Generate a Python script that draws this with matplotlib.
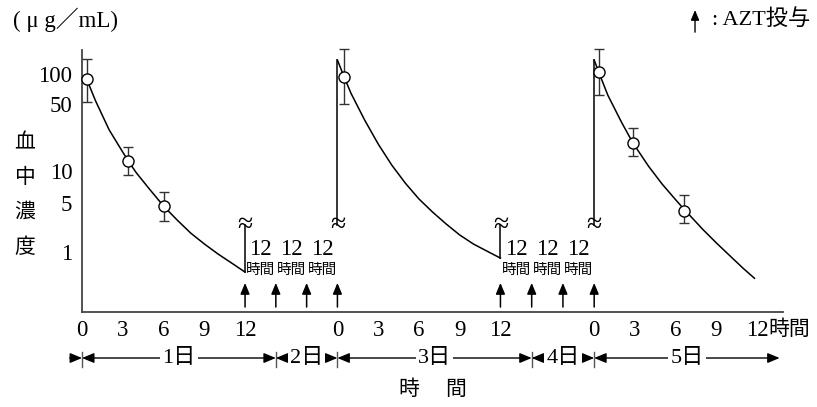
import numpy as np
import matplotlib.pyplot as plt

plt.rcParams['font.family'] = ['Liberation Serif', 'Noto Sans CJK JP']

# blood concentration curves (hours from first dose, ug/mL)
day1_hours = [0.4, 1, 2, 3, 3.4, 4, 5, 6, 7, 8, 9, 10, 11, 12]
day1_conc = [85, 53.6, 26.7, 15.6, 12.6, 9.5, 6.6, 4.46, 2.83, 1.85, 1.30, 0.94, 0.70, 0.52]

day3_hours = [48, 48.5, 49, 50, 51, 52, 53, 54, 55, 56, 57, 58, 59, 60]
day3_conc = [138, 93, 64, 34, 19.0, 11.4, 7.6, 5.4, 3.67, 2.49, 1.74, 1.30, 1.03, 0.82]

day5_hours = [96, 96.33, 97, 98, 98.85, 100, 101, 102, 102.6, 104, 105, 106, 107, 107.8]
day5_conc = [138, 105, 61.5, 32.4, 19.5, 11.1, 7.46, 5.3, 4.05, 2.08, 1.34, 0.88, 0.58, 0.425]

# measured means with range
meas_hours = [0.4, 3.4, 6.0, 48.46, 96.32, 98.85, 102.6]
meas_conc = [88.5, 12.6, 4.46, 93.7, 104, 19.5, 3.85]
meas_low = [52.4, 9.1, 2.74, 49.7, 61.5, 14.2, 2.57]
meas_high = [141, 17.8, 6.3, 178, 178, 27.8, 5.9]

dose_hours = [12, 24, 36, 48, 60, 72, 84, 96]
gap_mid_hours = [18, 30, 42, 66, 78, 90]
break_level = 2.4

day_bounds = [0, 24, 48, 72, 96]
day_end = 109.65
day_names = ['1日', '2日', '3日', '4日', '5日']

xtick_hours = [0, 3, 6, 9, 12, 48, 51, 54, 57, 60, 96, 99, 102, 105, 108]
xtick_labels = ['0', '3', '6', '9', '12'] * 3
ytick_vals = [1, 5, 10, 50, 100]

# hand-drawn concentration axis: piecewise log spacing between labelled values
y_logs = [-2, 0, np.log10(5), 1, np.log10(50), 2, 3]
y_pos = [-141.4, 0, 49.5, 81.5, 148, 178, 278]

# time axis: the 12 h gaps between the plotted days are squeezed
x_hours = [-20, 0, 12, 48, 60, 96, 108, 130]
x_pos = [-20, 0, 12, 18.8, 30.8, 37.7, 49.7, 71.7]


def y_fwd(v):
    return np.interp(np.log10(np.clip(v, 1e-6, None)), y_logs, y_pos)


def y_inv(p):
    return 10 ** np.interp(p, y_pos, y_logs)


def x_fwd(h):
    return np.interp(h, x_hours, x_pos)


def x_inv(p):
    return np.interp(p, x_pos, x_hours)


fig = plt.figure(figsize=(8.17, 4.07), dpi=100)
ax = fig.add_axes([0.1004, 0.2334, 0.858, 0.6437])
ax.set_xscale('function', functions=(x_fwd, x_inv))
ax.set_yscale('function', functions=(y_fwd, y_inv))
ax.set_xlim(0, 109.9)
ax.set_ylim(0.1416, 173.8)

for s in ['top', 'right']:
    ax.spines[s].set_visible(False)
for s in ['left', 'bottom']:
    ax.spines[s].set_color('#444444')
    ax.spines[s].set_linewidth(1.3)

ax.set_xticks(xtick_hours, xtick_labels)
ax.set_yticks(ytick_vals, [str(v) for v in ytick_vals])
ax.minorticks_off()
ax.tick_params(axis='both', length=0, labelsize=16.5)
ax.tick_params(axis='x', pad=6)
ax.tick_params(axis='y', pad=7)

line_kw = dict(color='black', lw=1.1, clip_on=False)
ax.plot(day1_hours, day1_conc, **line_kw)
ax.plot(day3_hours, day3_conc, **line_kw)
ax.plot(day5_hours, day5_conc, **line_kw)

# jumps at each dose, broken with a wavy mark
ax.plot([day1_hours[-1]] * 2, [day1_conc[-1], break_level], **line_kw)
ax.plot([day3_hours[0]] * 2, [break_level, day3_conc[0]], **line_kw)
ax.plot([day3_hours[-1]] * 2, [day3_conc[-1], break_level], **line_kw)
ax.plot([day5_hours[0]] * 2, [break_level, day5_conc[0]], **line_kw)
for h in [day1_hours[-1], day3_hours[0], day3_hours[-1], day5_hours[0]]:
    ax.text(h, break_level, '≈', ha='center', va='center', fontsize=20)

conc = np.array(meas_conc)
yerr = [conc - np.array(meas_low), np.array(meas_high) - conc]
eb = ax.errorbar(meas_hours, meas_conc, yerr=yerr, fmt='o', mfc='white', mec='black',
                 mew=1.0, ms=8, ecolor='#333333', elinewidth=1.0, capsize=3.4,
                 capthick=1.0, zorder=4)
for art in eb.get_children():
    art.set_clip_on(False)

xt = ax.get_xaxis_transform()
for h in dose_hours:
    ax.annotate('', xy=(h, 0.111), xytext=(h, 0.019), xycoords=xt,
                arrowprops=dict(arrowstyle='-|>,head_length=0.6,head_width=0.25',
                                color='black', lw=1.1, mutation_scale=11,
                                shrinkA=0, shrinkB=0))
for h in gap_mid_hours:
    ax.text(h, 0.24, '12', transform=xt, ha='center', va='center', fontsize=16.5)
    ax.text(h, 0.158, '時間', transform=xt, ha='center', va='center', fontsize=10.5)

ax.annotate('時間', xy=(108, 0), xycoords=xt, xytext=(8, -13),
            textcoords='offset points', ha='left', va='center', fontsize=15)

# day spans under the time axis
row_y = -0.1756
span_kw = dict(arrowstyle='<|-|>,head_length=0.6,head_width=0.25', color='black',
               lw=1.0, mutation_scale=12, shrinkA=0, shrinkB=0)
ax.annotate('', xy=(0, row_y), xytext=(-0.9, row_y), xycoords=xt, annotation_clip=False,
            arrowprops=dict(span_kw, arrowstyle='-|>,head_length=0.6,head_width=0.25'))
ends = day_bounds[1:] + [day_end]
for a, b, name in zip(day_bounds, ends, day_names):
    ax.annotate('', xy=(b, row_y), xytext=(a, row_y), xycoords=xt,
                annotation_clip=False, arrowprops=span_kw)
    mid = x_inv((x_fwd(a) + x_fwd(b)) / 2)
    ax.text(mid, row_y, name, transform=xt, ha='center', va='center', fontsize=16,
            zorder=5, bbox=dict(facecolor='white', edgecolor='none', pad=1.5))
for b in day_bounds:
    ax.plot([b, b], [-0.1527, -0.21], transform=xt, clip_on=False, color='#555555', lw=1.0)

fig.text(0.016, 0.951, '( μ g／mL)', ha='left', va='center', fontsize=16.5)
fig.text(0.0306, 0.518, '血\n中\n濃\n度', ha='center', va='center', fontsize=15,
         linespacing=2.1)
fig.text(0.53, 0.042, '時　 間', ha='center', va='center', fontsize=15)

ax.annotate('', xy=(0.8507, 0.9754), xytext=(0.8507, 0.921), xycoords='figure fraction',
            annotation_clip=False,
            arrowprops=dict(arrowstyle='-|>,head_length=0.6,head_width=0.25', color='black',
                            lw=1.0, mutation_scale=10, shrinkA=0, shrinkB=0))
fig.text(0.872, 0.951, ': AZT投与', ha='left', va='center', fontsize=16)

fig.savefig('out.png', dpi=100)
